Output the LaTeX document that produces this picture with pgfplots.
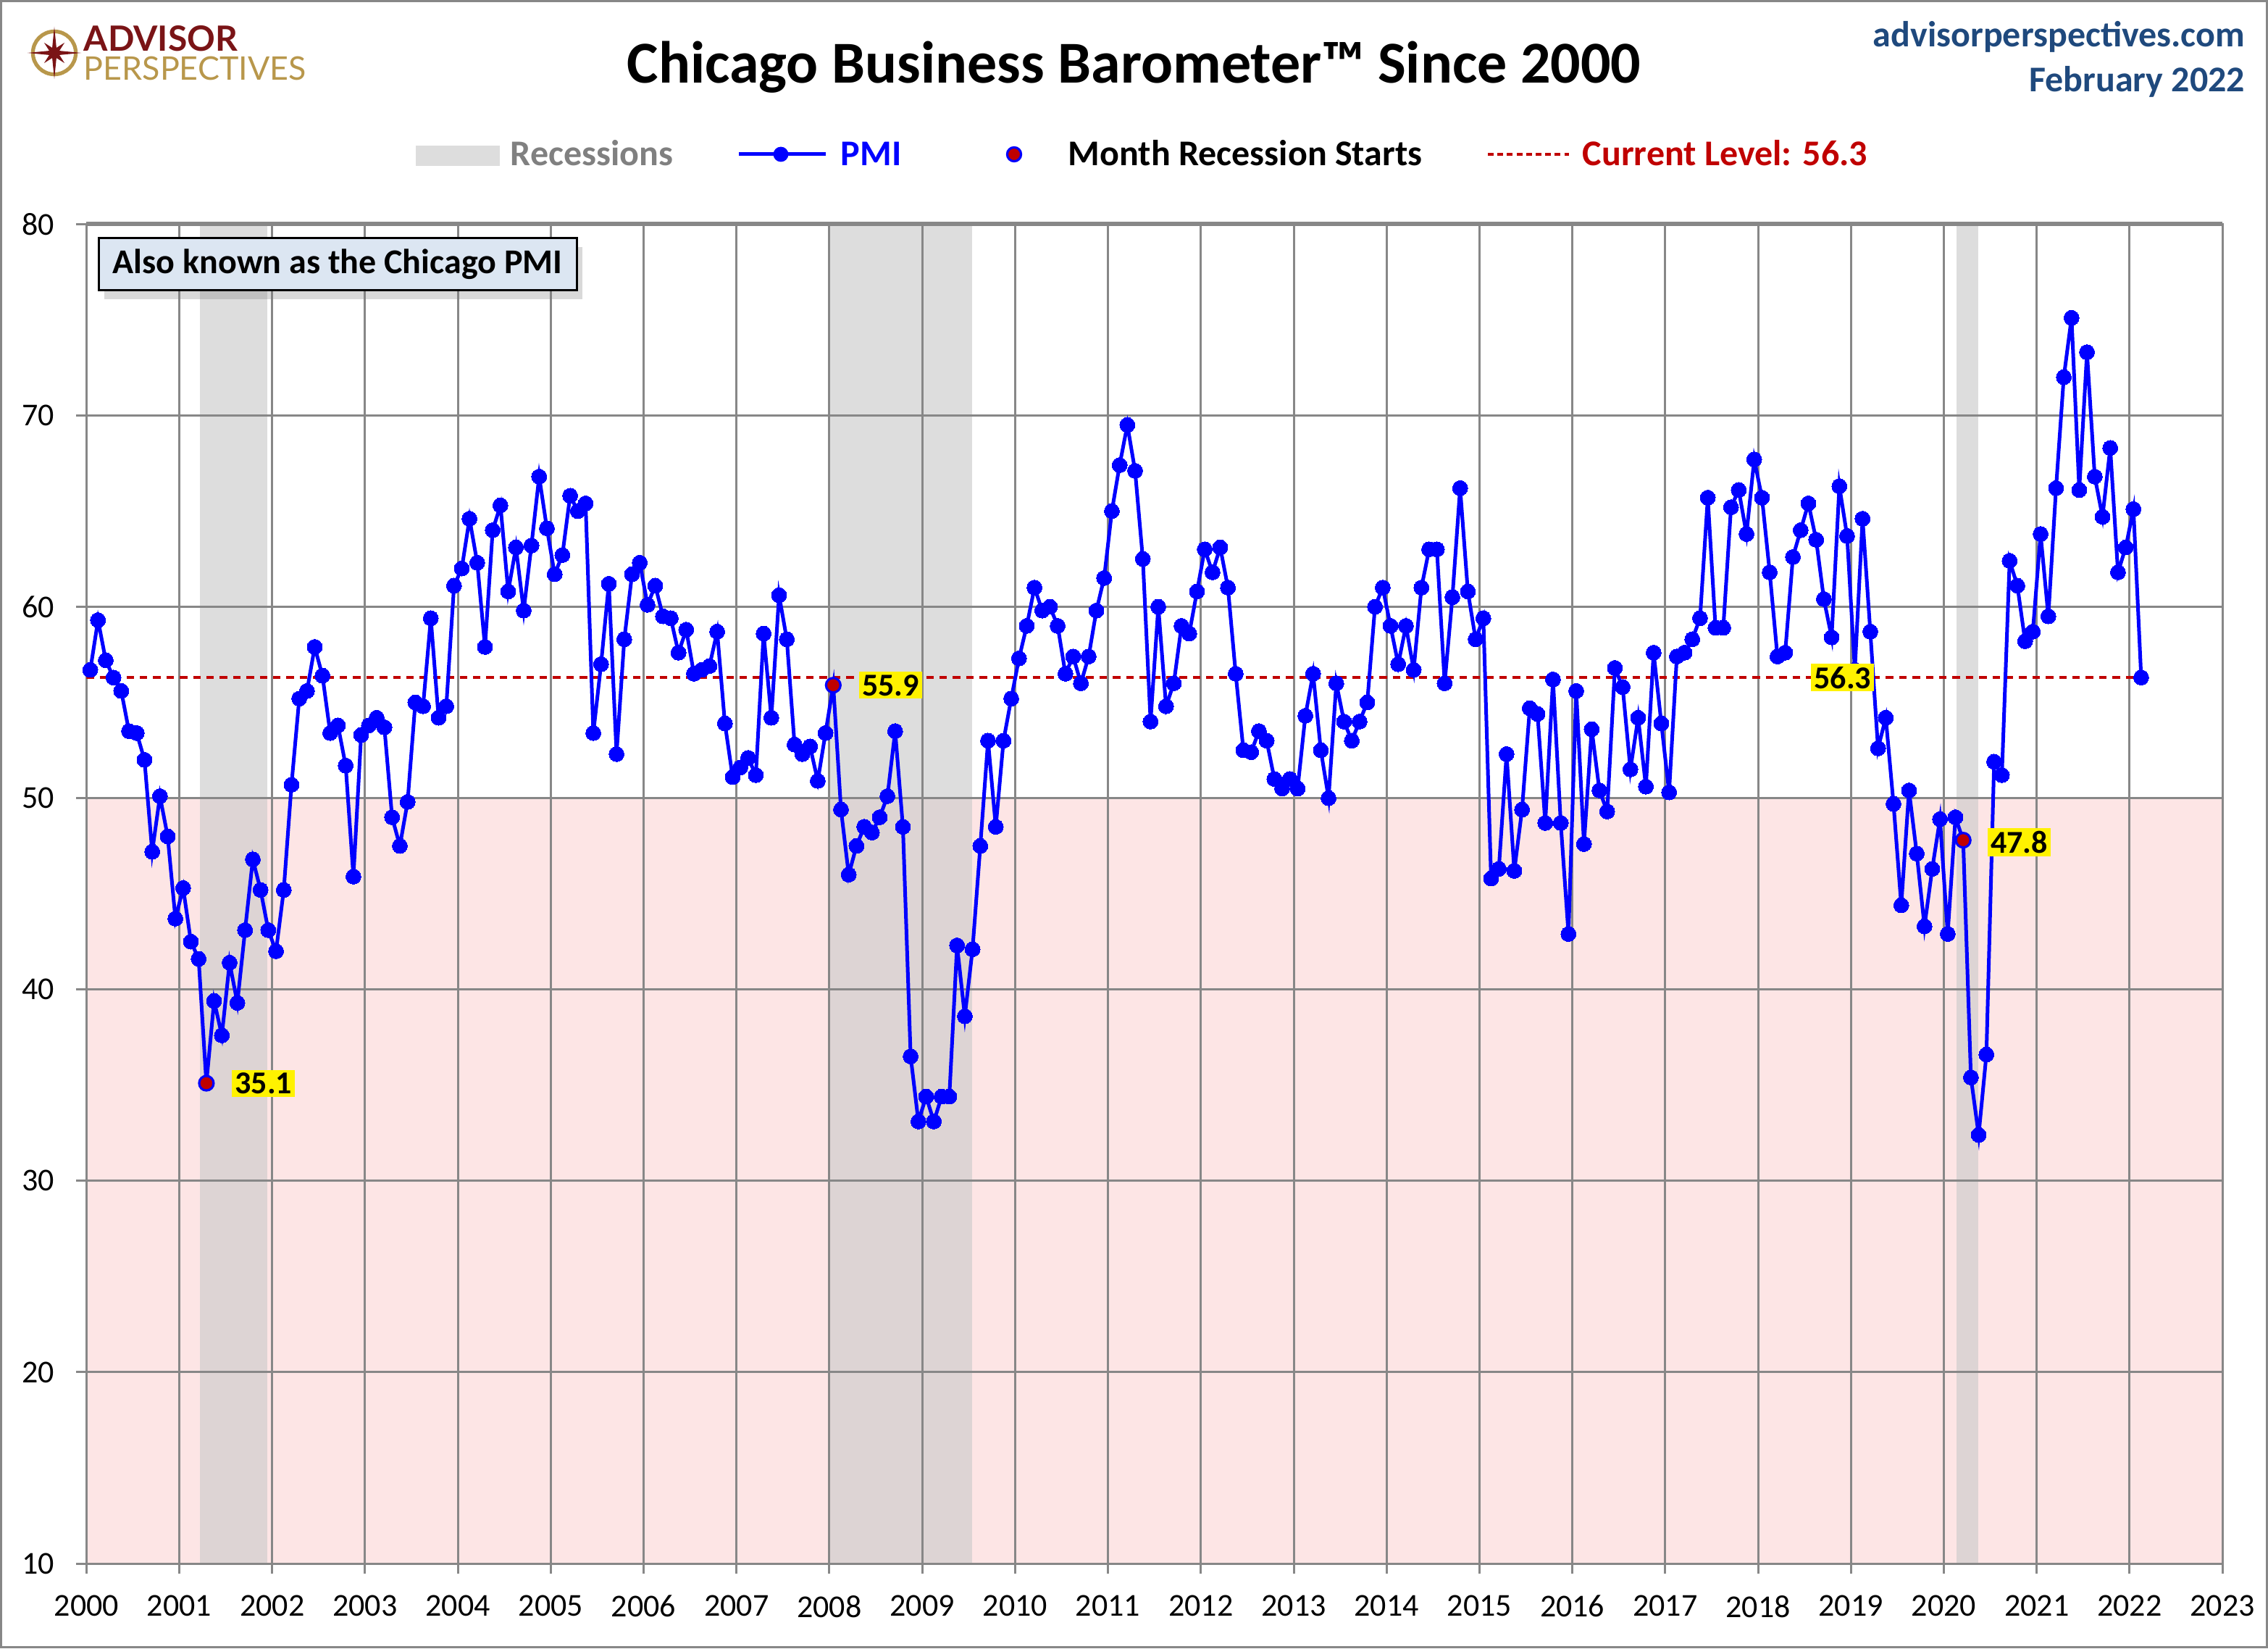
\documentclass[border=0pt]{standalone}
\usepackage{fontspec}
\setmainfont{Carlito}
\newfontfamily\latofont{Lato}
\usepackage{pgfplots}
\pgfplotsset{compat=1.18}
\usepackage{pgfplotstable}
\usetikzlibrary{shadows}
\definecolor{pinkc}{HTML}{FDE5E5}
\definecolor{bandc}{HTML}{DDDDDD}
\definecolor{bandpink}{HTML}{DDD4D4}
\definecolor{gridc}{HTML}{878787}
\definecolor{darkredc}{HTML}{C00000}
\definecolor{apblue}{HTML}{1F497D}
\definecolor{apred}{HTML}{7A1416}
\definecolor{apgold}{HTML}{B8974B}
\definecolor{boxc}{HTML}{DCE6F2}
\definecolor{legendgray}{HTML}{808080}

\pgfplotstableread{
yr m v
2000 1 56.7
2000 2 59.3
2000 3 57.2
2000 4 56.3
2000 5 55.6
2000 6 53.5
2000 7 53.4
2000 8 52.0
2000 9 47.2
2000 10 50.1
2000 11 48.0
2000 12 43.7
2001 1 45.3
2001 2 42.5
2001 3 41.6
2001 4 35.1
2001 5 39.4
2001 6 37.6
2001 7 41.4
2001 8 39.3
2001 9 43.1
2001 10 46.8
2001 11 45.2
2001 12 43.1
2002 1 42.0
2002 2 45.2
2002 3 50.7
2002 4 55.2
2002 5 55.6
2002 6 57.9
2002 7 56.4
2002 8 53.4
2002 9 53.8
2002 10 51.7
2002 11 45.9
2002 12 53.3
2003 1 53.8
2003 2 54.2
2003 3 53.7
2003 4 49.0
2003 5 47.5
2003 6 49.8
2003 7 55.0
2003 8 54.8
2003 9 59.4
2003 10 54.2
2003 11 54.8
2003 12 61.1
2004 1 62.0
2004 2 64.6
2004 3 62.3
2004 4 57.9
2004 5 64.0
2004 6 65.3
2004 7 60.8
2004 8 63.1
2004 9 59.8
2004 10 63.2
2004 11 66.8
2004 12 64.1
2005 1 61.7
2005 2 62.7
2005 3 65.8
2005 4 65.0
2005 5 65.4
2005 6 53.4
2005 7 57.0
2005 8 61.2
2005 9 52.3
2005 10 58.3
2005 11 61.7
2005 12 62.3
2006 1 60.1
2006 2 61.1
2006 3 59.5
2006 4 59.4
2006 5 57.6
2006 6 58.8
2006 7 56.5
2006 8 56.7
2006 9 56.9
2006 10 58.7
2006 11 53.9
2006 12 51.1
2007 1 51.6
2007 2 52.1
2007 3 51.2
2007 4 58.6
2007 5 54.2
2007 6 60.6
2007 7 58.3
2007 8 52.8
2007 9 52.3
2007 10 52.7
2007 11 50.9
2007 12 53.4
2008 1 55.9
2008 2 49.4
2008 3 46.0
2008 4 47.5
2008 5 48.5
2008 6 48.2
2008 7 49.0
2008 8 50.1
2008 9 53.5
2008 10 48.5
2008 11 36.5
2008 12 33.1
2009 1 34.4
2009 2 33.1
2009 3 34.4
2009 4 34.4
2009 5 42.3
2009 6 38.6
2009 7 42.1
2009 8 47.5
2009 9 53.0
2009 10 48.5
2009 11 53.0
2009 12 55.2
2010 1 57.3
2010 2 59.0
2010 3 61.0
2010 4 59.8
2010 5 60.0
2010 6 59.0
2010 7 56.5
2010 8 57.4
2010 9 56.0
2010 10 57.4
2010 11 59.8
2010 12 61.5
2011 1 65.0
2011 2 67.4
2011 3 69.5
2011 4 67.1
2011 5 62.5
2011 6 54.0
2011 7 60.0
2011 8 54.8
2011 9 56.0
2011 10 59.0
2011 11 58.6
2011 12 60.8
2012 1 63.0
2012 2 61.8
2012 3 63.1
2012 4 61.0
2012 5 56.5
2012 6 52.5
2012 7 52.4
2012 8 53.5
2012 9 53.0
2012 10 51.0
2012 11 50.5
2012 12 51.0
2013 1 50.5
2013 2 54.3
2013 3 56.5
2013 4 52.5
2013 5 50.0
2013 6 56.0
2013 7 54.0
2013 8 53.0
2013 9 54.0
2013 10 55.0
2013 11 60.0
2013 12 61.0
2014 1 59.0
2014 2 57.0
2014 3 59.0
2014 4 56.7
2014 5 61.0
2014 6 63.0
2014 7 63.0
2014 8 56.0
2014 9 60.5
2014 10 66.2
2014 11 60.8
2014 12 58.3
2015 1 59.4
2015 2 45.8
2015 3 46.3
2015 4 52.3
2015 5 46.2
2015 6 49.4
2015 7 54.7
2015 8 54.4
2015 9 48.7
2015 10 56.2
2015 11 48.7
2015 12 42.9
2016 1 55.6
2016 2 47.6
2016 3 53.6
2016 4 50.4
2016 5 49.3
2016 6 56.8
2016 7 55.8
2016 8 51.5
2016 9 54.2
2016 10 50.6
2016 11 57.6
2016 12 53.9
2017 1 50.3
2017 2 57.4
2017 3 57.6
2017 4 58.3
2017 5 59.4
2017 6 65.7
2017 7 58.9
2017 8 58.9
2017 9 65.2
2017 10 66.1
2017 11 63.8
2017 12 67.7
2018 1 65.7
2018 2 61.8
2018 3 57.4
2018 4 57.6
2018 5 62.6
2018 6 64.0
2018 7 65.4
2018 8 63.5
2018 9 60.4
2018 10 58.4
2018 11 66.3
2018 12 63.7
2019 1 56.7
2019 2 64.6
2019 3 58.7
2019 4 52.6
2019 5 54.2
2019 6 49.7
2019 7 44.4
2019 8 50.4
2019 9 47.1
2019 10 43.3
2019 11 46.3
2019 12 48.9
2020 1 42.9
2020 2 49.0
2020 3 47.8
2020 4 35.4
2020 5 32.4
2020 6 36.6
2020 7 51.9
2020 8 51.2
2020 9 62.4
2020 10 61.1
2020 11 58.2
2020 12 58.7
2021 1 63.8
2021 2 59.5
2021 3 66.2
2021 4 72.0
2021 5 75.1
2021 6 66.1
2021 7 73.3
2021 8 66.8
2021 9 64.7
2021 10 68.3
2021 11 61.8
2021 12 63.1
2022 1 65.1
2022 2 56.3
}\pmi

\newcommand{\legfont}{\bfseries\fontsize{12.5}{15}\selectfont}
\newcommand{\lblfont}{\bfseries\fontsize{11}{13}\selectfont}

\begin{document}
\begin{tikzpicture}
\path (0,0) rectangle (782.75pt,568.75pt);
\draw[gridc, line width=0.75pt] (0.375pt,0.375pt) rectangle (782.375pt,568.375pt);

\begin{axis}[
  set layers,
  at={(29.825pt,29.25pt)}, anchor=south west,
  scale only axis, width=737.2pt, height=462.2pt,
  xmin=2000, xmax=2023, ymin=10, ymax=80,
  xtick={2000,2001,...,2023}, ytick={10,20,...,80},
  grid=major, major grid style={gridc, line width=0.75pt},
  axis line style={gridc, line width=0.75pt},
  tick style={gridc, line width=0.75pt},
  tick align=outside, major tick length=3.5pt,
  xtick pos=bottom, ytick pos=left,
  /pgf/number format/1000 sep={},
  /pgf/number format/assume math mode=true,
  ticklabel style={font=\fontsize{11}{13}\selectfont},
  xticklabel style={yshift=-4pt},
  yticklabel style={xshift=-4pt},
]
\begin{pgfonlayer}{axis background}
\fill[pinkc] (axis cs:2000,10) rectangle (axis cs:2023,50);
\fill[bandc] (axis cs:2001.22,50) rectangle (axis cs:2001.95,80);
\fill[bandpink] (axis cs:2001.22,10) rectangle (axis cs:2001.95,50);
\fill[bandc] (axis cs:2008.01,50) rectangle (axis cs:2009.536,80);
\fill[bandpink] (axis cs:2008.01,10) rectangle (axis cs:2009.536,50);
\fill[bandc] (axis cs:2020.14,50) rectangle (axis cs:2020.37,80);
\fill[bandpink] (axis cs:2020.14,10) rectangle (axis cs:2020.37,50);
\end{pgfonlayer}
\begin{pgfonlayer}{axis foreground}
\draw[gridc, line width=1.5pt] (axis cs:2000,80) -- (axis cs:2023,80);
\node[fill=yellow, inner sep=1pt, font=\lblfont] at (axis cs:2001.907,35.1) {35.1};
\node[fill=yellow, inner sep=1pt, font=\lblfont] at (axis cs:2008.66,55.9) {55.9};
\node[fill=yellow, inner sep=1pt, font=\lblfont] at (axis cs:2018.91,56.3) {56.3};
\node[fill=yellow, inner sep=1pt, font=\lblfont] at (axis cs:2020.81,47.7) {47.8};
\end{pgfonlayer}

\addplot[darkredc, line width=1pt, dash pattern=on 2.6pt off 2pt] coordinates {(2000,56.3) (2022.125,56.3)};

\addplot[blue, line width=1.25pt, mark=*, mark size=2.6pt, mark options={fill=blue, draw=blue, line width=0pt}] table[x expr=\thisrow{yr}+(\thisrow{m}-0.5)/12, y=v]{\pmi};
\addplot[only marks, mark=*, mark size=2.5pt, mark options={fill=darkredc, draw=blue, line width=0.8pt}] coordinates {(2001.2917,35.1) (2008.0417,55.9) (2020.2083,47.8)};
\end{axis}

% annotation box
\node[draw=black, line width=0.75pt, fill=boxc, minimum width=165pt, minimum height=18pt, inner sep=0pt,
  drop shadow={opacity=0.3, shadow xshift=2pt, shadow yshift=-3pt},
  font=\bfseries\fontsize{12}{14}\selectfont] at (116.5pt,477.5pt) {Also known as the Chicago PMI};

% title
\node[anchor=base, inner sep=0pt, font=\bfseries\fontsize{20.5}{24}\selectfont] at (391.4pt,540pt) {Chicago Business Barometer™ Since 2000};
\node[anchor=base east, inner sep=0pt, font=\bfseries\fontsize{12.5}{15}\selectfont, text=apblue] at (775pt,552.5pt) {advisorperspectives.com};
\node[anchor=base east, inner sep=0pt, font=\bfseries\fontsize{12.5}{15}\selectfont, text=apblue] at (775pt,537pt) {February 2022};

% logo
\begin{scope}[shift={(18.75pt,550.5pt)}]
\draw[apgold, line width=1.3pt] (0,0) circle (7.4pt);
\fill[apred] (0:9.3pt) -- (22.5:1.9pt) -- (45:5pt) -- (67.5:1.9pt) -- (90:9pt) -- (112.5:1.9pt) -- (135:5pt) -- (157.5:1.9pt)
  -- (180:9.3pt) -- (202.5:1.9pt) -- (225:5pt) -- (247.5:1.9pt) -- (270:9pt) -- (292.5:1.9pt) -- (315:5pt) -- (337.5:1.9pt) -- cycle;
\end{scope}
\node[anchor=base west, inner sep=0pt, text depth=0pt, font=\latofont\bfseries\fontsize{12}{13}\selectfont, text=apred] at (28.75pt,551.2pt) {ADVISOR};
\node[anchor=base west, inner sep=0pt, text height=7.8pt, font=\latofont\fontsize{11.2}{13}\selectfont, text=apgold] at (28.75pt,541pt) {PERSPECTIVES};

% legend
\fill[bandc] (143.5pt,511.5pt) rectangle (172.5pt,518.5pt);
\node[anchor=base west, inner sep=0pt, text=legendgray, font=\legfont] at (176pt,511.5pt) {Recessions};
\draw[blue, line width=1.25pt] (255pt,515.5pt) -- (285pt,515.5pt);
\fill[blue] (269.5pt,515.5pt) circle (2.6pt);
\node[anchor=base west, inner sep=0pt, text=blue, font=\legfont] at (290pt,511.5pt) {PMI};
\filldraw[fill=darkredc, draw=blue, line width=0.8pt] (350pt,515.5pt) circle (2.4pt);
\node[anchor=base west, inner sep=0pt, text=black, font=\legfont] at (368.5pt,511.5pt) {Month Recession Starts};
\draw[darkredc, line width=1pt, dash pattern=on 2pt off 1.3pt] (513.5pt,515.5pt) -- (541.5pt,515.5pt);
\node[anchor=base west, inner sep=0pt, text=darkredc, font=\legfont] at (546pt,511.5pt) {Current Level: 56.3};
\end{tikzpicture}
\end{document}
